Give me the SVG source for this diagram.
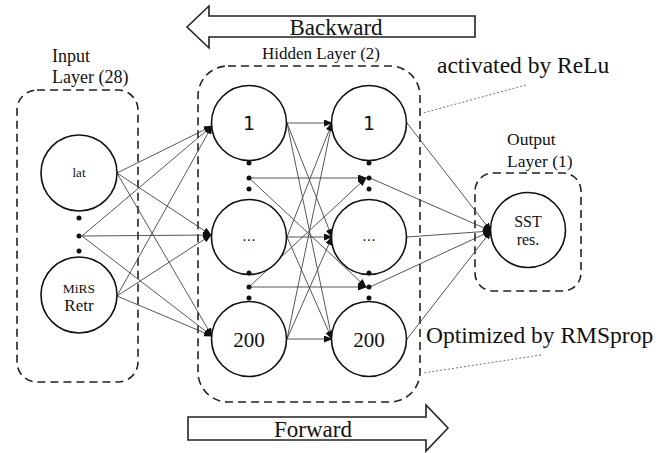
<svg xmlns="http://www.w3.org/2000/svg" width="671" height="453" viewBox="0 0 671 453">
<style>
.box{fill:none;stroke:#222;stroke-width:1.6;stroke-dasharray:8,5}
.node{fill:#fff;stroke:#111;stroke-width:1.6}
.dot{fill:#111}
.t{font-family:"Liberation Serif","Times New Roman",serif;fill:#111}
.s{font-family:"DejaVu Sans","Liberation Sans",sans-serif;fill:#111}
.c{stroke:#444;stroke-width:0.9;fill:none;marker-end:url(#ah)}
.ann{stroke:#777;stroke-width:1;stroke-dasharray:2,2;fill:none}
.big{fill:#fff;stroke:#222;stroke-width:1.6}
</style>
<defs>
<marker id="ah" markerUnits="userSpaceOnUse" markerWidth="9" markerHeight="7" refX="8" refY="3.5" orient="auto">
<path d="M0,0 L9,3.5 L0,7 z" fill="#111"/>
</marker>
</defs>
<rect width="671" height="453" fill="#fff"/>

<g id="backward">
<polygon class="big" points="187,27 209,6 209,16 475,16 475,37 209,37 209,48"/>
<text class="t" x="336" y="35" font-size="23" text-anchor="middle">Backward</text>
</g>
<g id="forward">
<polygon class="big" points="188,417 426,417 426,405 448,428 426,451 426,440 188,440"/>
<text class="t" x="313" y="437" font-size="23" text-anchor="middle">Forward</text>
</g>

<g id="input-layer">
<rect class="box" x="17" y="90" width="121" height="292" rx="20"/>
<text class="t" x="52" y="62" font-size="18">Input</text>
<text class="t" x="52" y="83" font-size="18">Layer  (28)</text>
</g>
<g id="hidden-layer">
<rect class="box" x="198" y="66" width="222" height="336" rx="30"/>
<text class="t" x="321" y="59" font-size="17" text-anchor="middle">Hidden Layer (2)</text>
</g>
<g id="output-layer">
<rect class="box" x="475" y="173" width="106" height="118" rx="18"/>
<text class="t" x="507" y="145" font-size="17.5">Output</text>
<text class="t" x="507" y="167" font-size="17.5">Layer  (1)</text>
</g>

<g id="connectors">
<line class="c" x1="117" y1="173" x2="212" y2="126"/>
<line class="c" x1="117" y1="173" x2="211" y2="235"/>
<line class="c" x1="117" y1="173" x2="212" y2="336"/>
<line class="c" x1="82" y1="236" x2="212" y2="126"/>
<line class="c" x1="82" y1="236" x2="211" y2="235"/>
<line class="c" x1="82" y1="236" x2="212" y2="336"/>
<line class="c" x1="117" y1="296" x2="212" y2="126"/>
<line class="c" x1="117" y1="296" x2="211" y2="235"/>
<line class="c" x1="117" y1="296" x2="212" y2="336"/>

<line class="c" x1="287" y1="123" x2="332" y2="123"/>
<line class="c" x1="287" y1="123" x2="332" y2="237"/>
<line class="c" x1="287" y1="123" x2="332" y2="339"/>
<line class="c" x1="287" y1="237" x2="332" y2="123"/>
<line class="c" x1="287" y1="237" x2="332" y2="237"/>
<line class="c" x1="287" y1="237" x2="332" y2="339"/>
<line class="c" x1="287" y1="339" x2="332" y2="123"/>
<line class="c" x1="287" y1="339" x2="332" y2="237"/>
<line class="c" x1="287" y1="339" x2="332" y2="339"/>
<line class="c" x1="249" y1="178" x2="366" y2="178"/>
<line class="c" x1="249" y1="287" x2="366" y2="287"/>
<line class="c" x1="249" y1="178" x2="366" y2="287"/>
<line class="c" x1="249" y1="287" x2="366" y2="178"/>

<line class="c" x1="407" y1="123" x2="491" y2="231"/>
<line class="c" x1="370" y1="178" x2="491" y2="231"/>
<line class="c" x1="407" y1="237" x2="491" y2="231"/>
<line class="c" x1="370" y1="287" x2="491" y2="231"/>
<line class="c" x1="407" y1="339" x2="491" y2="231"/>

<line class="ann" x1="526" y1="85" x2="423" y2="113"/>
<line class="ann" x1="541" y1="355" x2="423" y2="373"/>
</g>

<g id="node-lat">
<circle class="node" cx="79" cy="173" r="38"/>
<text class="t" x="79" y="177" font-size="13" text-anchor="middle">lat</text>
</g>
<g id="input-dots">
<circle class="dot" cx="79" cy="218" r="2.5"/>
<circle class="dot" cx="79" cy="236" r="2.5"/>
<circle class="dot" cx="79" cy="251" r="2.5"/>
</g>
<g id="node-mirs">
<circle class="node" cx="79" cy="295" r="38"/>
<text class="t" x="79" y="293" font-size="13.5" text-anchor="middle">MiRS</text>
<text class="t" x="79" y="311" font-size="17" text-anchor="middle">Retr</text>
</g>

<g id="h1-1">
<circle class="node" cx="249" cy="123" r="37.5"/>
<text class="s" x="249" y="130" font-size="19" text-anchor="middle">1</text>
</g>
<g id="h1-dots-a">
<circle class="dot" cx="249" cy="163" r="2.5"/>
<circle class="dot" cx="249" cy="178" r="2.5"/>
<circle class="dot" cx="249" cy="189" r="2.5"/>
</g>
<g id="h1-mid">
<circle class="node" cx="249" cy="237" r="37.5"/>
<text class="s" x="249" y="241" font-size="14" text-anchor="middle">...</text>
</g>
<g id="h1-dots-b">
<circle class="dot" cx="249" cy="273" r="2.5"/>
<circle class="dot" cx="249" cy="287" r="2.5"/>
<circle class="dot" cx="249" cy="298" r="2.5"/>
</g>
<g id="h1-200">
<circle class="node" cx="249" cy="339" r="37.5"/>
<text class="t" x="249" y="347" font-size="21" text-anchor="middle">200</text>
</g>

<g id="h2-1">
<circle class="node" cx="369" cy="123" r="37.5"/>
<text class="s" x="369" y="130" font-size="19" text-anchor="middle">1</text>
</g>
<g id="h2-dots-a">
<circle class="dot" cx="369" cy="163" r="2.5"/>
<circle class="dot" cx="369" cy="178" r="2.5"/>
<circle class="dot" cx="369" cy="189" r="2.5"/>
</g>
<g id="h2-mid">
<circle class="node" cx="369" cy="237" r="37.5"/>
<text class="s" x="369" y="241" font-size="14" text-anchor="middle">...</text>
</g>
<g id="h2-dots-b">
<circle class="dot" cx="369" cy="273" r="2.5"/>
<circle class="dot" cx="369" cy="287" r="2.5"/>
<circle class="dot" cx="369" cy="298" r="2.5"/>
</g>
<g id="h2-200">
<circle class="node" cx="369" cy="339" r="37.5"/>
<text class="t" x="369" y="347" font-size="21" text-anchor="middle">200</text>
</g>

<g id="node-sst">
<circle class="node" cx="528" cy="230" r="37.5"/>
<text class="t" x="528" y="227" font-size="16" text-anchor="middle">SST</text>
<text class="t" x="528" y="245" font-size="16" text-anchor="middle">res.</text>
</g>

<g id="notes">
<text class="t" x="437" y="73" font-size="23.5">activated by ReLu</text>
<text class="t" x="426" y="343" font-size="23.5">Optimized by RMSprop</text>
</g>
</svg>
